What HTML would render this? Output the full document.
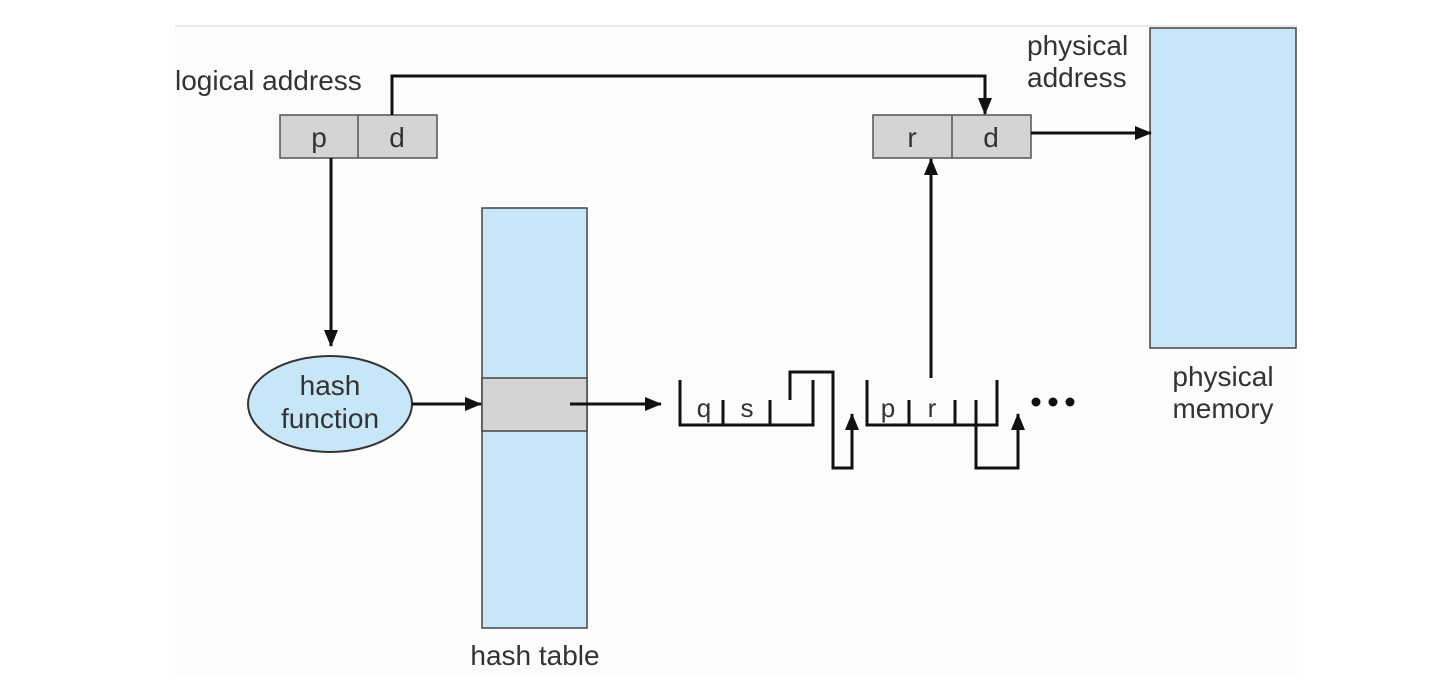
<!DOCTYPE html>
<html><head><meta charset="utf-8"><style>
html,body{margin:0;padding:0;background:#fff;}
svg{display:block;}
text{font-family:"Liberation Sans",Arial,sans-serif;fill:#333;}
</style></head><body>
<svg width="1442" height="681" viewBox="0 0 1442 681" xmlns="http://www.w3.org/2000/svg">
<defs>
<marker id="b" markerWidth="17" markerHeight="14" refX="16" refY="7" orient="auto" markerUnits="userSpaceOnUse">
<path d="M0,0 L17,7 L0,14 z" fill="#111"/>
</marker>
</defs>
<rect x="175" y="26" width="1122" height="650" fill="#fcfcfc"/>
<line x1="175" y1="26" x2="1297" y2="26" stroke="#e4e4e4" stroke-width="1.5"/>

<text x="175" y="90" font-size="28">logical address</text>
<text x="1027" y="55" font-size="28">physical</text>
<text x="1027" y="87" font-size="28">address</text>
<text x="1223" y="386" font-size="28" text-anchor="middle">physical</text>
<text x="1223" y="418" font-size="28" text-anchor="middle">memory</text>
<text x="535" y="665" font-size="28" text-anchor="middle">hash table</text>

<rect x="280" y="115" width="157" height="43" fill="#d4d4d4" stroke="#555" stroke-width="1.5"/>
<line x1="358" y1="115" x2="358" y2="158" stroke="#555" stroke-width="1.5"/>
<text x="319" y="147" font-size="28" text-anchor="middle">p</text>
<text x="397" y="147" font-size="28" text-anchor="middle">d</text>

<rect x="873" y="115" width="158" height="43" fill="#d4d4d4" stroke="#555" stroke-width="1.5"/>
<line x1="952" y1="115" x2="952" y2="158" stroke="#555" stroke-width="1.5"/>
<text x="912" y="147" font-size="28" text-anchor="middle">r</text>
<text x="991" y="147" font-size="28" text-anchor="middle">d</text>

<rect x="1150" y="28" width="146" height="320" fill="#c7e7f8" stroke="#444" stroke-width="1.5"/>

<rect x="482" y="208" width="105" height="420" fill="#c7e7f8" stroke="#444" stroke-width="1.5"/>
<rect x="482" y="378" width="105" height="53" fill="#d4d4d4" stroke="#444" stroke-width="1.5"/>

<ellipse cx="330" cy="404" rx="82" ry="48" fill="#c7e7f8" stroke="#333" stroke-width="2"/>
<text x="330" y="395" font-size="28" text-anchor="middle">hash</text>
<text x="330" y="428" font-size="28" text-anchor="middle">function</text>

<g stroke="#111" stroke-width="3" fill="none">
<polyline points="392,115 392,76 985,76 985,114" marker-end="url(#b)"/>
<line x1="331" y1="158" x2="331" y2="346" marker-end="url(#b)"/>
<line x1="412" y1="404" x2="481" y2="404" marker-end="url(#b)"/>
<line x1="570" y1="404" x2="661" y2="404" marker-end="url(#b)"/>
<line x1="1031" y1="133" x2="1151" y2="133" marker-end="url(#b)"/>
<line x1="931" y1="378" x2="931" y2="159" marker-end="url(#b)"/>

<polyline points="680,380 680,425 813,425 813,380"/>
<line x1="723" y1="400" x2="723" y2="425"/>
<line x1="770" y1="400" x2="770" y2="425"/>
<polyline points="790,400 790,372 833,372 833,468 852,468 852,414" marker-end="url(#b)"/>

<polyline points="867,380 867,425 997,425 997,380"/>
<line x1="909" y1="400" x2="909" y2="425"/>
<line x1="955" y1="400" x2="955" y2="425"/>
<polyline points="976,400 976,468 1018,468 1018,414" marker-end="url(#b)"/>
</g>
<text x="704" y="417" font-size="26" text-anchor="middle">q</text>
<text x="747" y="417" font-size="26" text-anchor="middle">s</text>
<text x="888" y="417" font-size="26" text-anchor="middle">p</text>
<text x="932" y="417" font-size="26" text-anchor="middle">r</text>
<circle cx="1036" cy="402" r="4.5" fill="#111"/>
<circle cx="1053" cy="402" r="4.5" fill="#111"/>
<circle cx="1070" cy="402" r="4.5" fill="#111"/>
</svg>
</body></html>
